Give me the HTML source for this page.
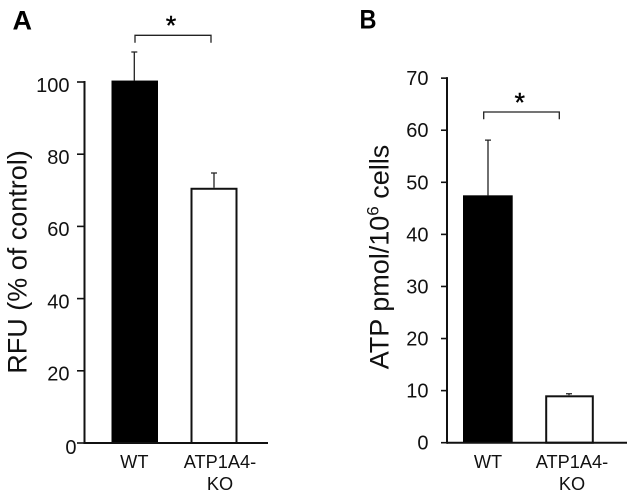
<!DOCTYPE html>
<html lang="en">
<head>
<meta charset="utf-8">
<title>RFU and ATP bar charts</title>
<style>
html,body{margin:0;padding:0;background:#fff;width:633px;height:498px;overflow:hidden}
svg{display:block}
text{font-family:"Liberation Sans",sans-serif;fill:#111}
</style>
</head>
<body>
<svg id="figure" width="633" height="498" viewBox="0 0 633 498" xmlns="http://www.w3.org/2000/svg">
  <text x="12.5" y="29.5" font-size="27" font-weight="bold" style="fill:#000">A</text>
  <text x="359.5" y="28.5" font-size="27" font-weight="bold" textLength="17" lengthAdjust="spacingAndGlyphs" style="fill:#000">B</text>
  <text transform="translate(26.7 262) rotate(-90)" text-anchor="middle" font-size="27">RFU (% of control)</text>
  <text transform="translate(388.7 257) rotate(-90)" text-anchor="middle" font-size="27">ATP pmol/10<tspan font-size="17" dy="-10">6</tspan><tspan dy="10"> cells</tspan></text>
  <path d="M135 42.7V35.3H211V42.7" fill="none" stroke="#222" stroke-width="1.3"/>
  <text x="171" y="34.5" text-anchor="middle" font-size="27" stroke="#000" stroke-width="0.4" style="fill:#000">*</text>
  <path d="M483.7 119.3V112H559.3V119.3" fill="none" stroke="#222" stroke-width="1.3"/>
  <text x="519.7" y="111.5" text-anchor="middle" font-size="27" stroke="#000" stroke-width="0.4" style="fill:#000">*</text>
  <g id="panelA"></g>
  <g id="panelB"></g>
  <text x="134.3" y="468" text-anchor="middle" font-size="18.2">WT</text>
  <text x="220" y="468" text-anchor="middle" font-size="18.2">ATP1A4-</text>
  <text x="220" y="490" text-anchor="middle" font-size="18.2">KO</text>
  <text x="488" y="468" text-anchor="middle" font-size="18.2">WT</text>
  <text x="572" y="468" text-anchor="middle" font-size="18.2">ATP1A4-</text>
  <text x="572" y="490" text-anchor="middle" font-size="18.2">KO</text>
</svg>
<script>
const categories = ['WT', 'ATP1A4-KO'];
const valuesA = [100.4, 70.7];
const errorsA = [7.9, 4.1];
const ticksA = [0, 20, 40, 60, 80, 100];
const valuesB = [47.5, 9.1];
const errorsB = [10.6, 0.3];
const ticksB = [0, 10, 20, 30, 40, 50, 60, 70];

const NS = 'http://www.w3.org/2000/svg';

function yA(v) { return 443 - v * 3.61; }
function yB(v) { return 442.7 - v * 5.208; }

function make(parent, tag, attrs) {
  const el = document.createElementNS(NS, tag);
  for (const k in attrs) el.setAttribute(k, attrs[k]);
  parent.appendChild(el);
  return el;
}

function drawPanel(root, prefix, cfg, values, errors, ticks, y) {
  categories.forEach(function (cat, i) {
    const left = cfg.barLeft[i];
    const width = cfg.barWidth[i];
    const mid = cfg.errX[i];
    const top = y(values[i]);
    const errTop = y(values[i] + errors[i]);

    const whisker = make(root, 'path', {
      d: 'M' + mid + ' ' + top + 'V' + errTop + 'M' + (mid - 3) + ' ' + errTop + 'H' + (mid + 3),
      fill: 'none', stroke: '#222', 'stroke-width': 1.3
    });
    
    

    const inset = i === 0 ? 0 : 1;
    const bar = make(root, 'rect', {
      x: left + inset, y: top + inset,
      width: width - inset * 2, height: cfg.zero - top - inset,
      fill: i === 0 ? '#000' : '#fff',
      stroke: i === 0 ? 'none' : '#111',
      'stroke-width': i === 0 ? 0 : 2
    });
    
    
  });

  const yAxis = make(root, 'line', {
    x1: cfg.axisX, x2: cfg.axisX, y1: y(ticks[ticks.length - 1]) - 1, y2: cfg.zero + 1,
    stroke: '#111', 'stroke-width': 2
  });
  
  

  const xAxis = make(root, 'line', {
    x1: cfg.axisX, x2: cfg.axisEnd, y1: cfg.zero, y2: cfg.zero,
    stroke: '#111', 'stroke-width': 2
  });
  
  

  ticks.forEach(function (t) {
    const tick = make(root, 'line', {
      x1: cfg.tickStart, x2: cfg.axisX, y1: y(t), y2: y(t),
      stroke: '#111', 'stroke-width': 1.6
    });
    
    

    const shift = t === 0 ? cfg.zeroShift : 0;
    const label = make(root, 'text', {
      x: cfg.labelRight + shift, y: y(t) + cfg.labelDy + (t === 0 ? cfg.zeroDy : 0),
      'text-anchor': 'end', 'font-size': 20
    });
    label.textContent = String(t);
    
    
  });
}

drawPanel(document.getElementById('panelA'), 'panel-a', {
  axisX: 84.5, axisEnd: 268, tickStart: 77, zero: 443,
  labelRight: 69.5, labelDy: 9.8, zeroShift: 7, zeroDy: 1,
  barLeft: [111.5, 190.5], barWidth: [46.5, 47], errX: [134.3, 214]
}, valuesA, errorsA, ticksA, yA);

drawPanel(document.getElementById('panelB'), 'panel-b', {
  axisX: 447, axisEnd: 627, tickStart: 441, zero: 442.7,
  labelRight: 428.5, labelDy: 7, zeroShift: 0, zeroDy: 0,
  barLeft: [463, 545.2], barWidth: [49.7, 48.6], errX: [488, 569]
}, valuesB, errorsB, ticksB, yB);
</script>
</body>
</html>
